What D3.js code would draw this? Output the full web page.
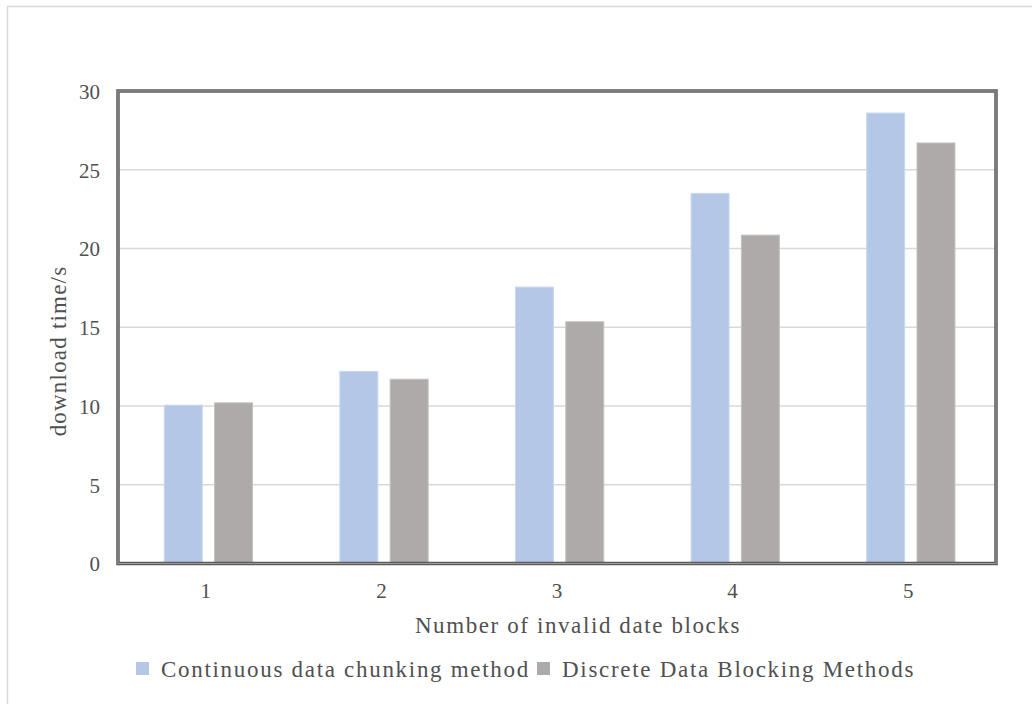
<!DOCTYPE html>
<html><head><meta charset="utf-8">
<script src="https://cdn.jsdelivr.net/npm/d3@7"></script>
<style>
html,body{margin:0;padding:0;background:#fff;}
svg{display:block;}
text{font-family:"Liberation Serif","Times New Roman",serif;fill:#505050;}
</style></head>
<body>
<svg id="chart" width="1032" height="704"></svg>
<script>
const categories = ["1","2","3","4","5"];
const seriesNames = ["Continuous data chunking method","Discrete Data Blocking Methods"];
const continuousValues = [10.05, 12.2, 17.55, 23.5, 28.6];
const discreteValues = [10.2, 11.7, 15.35, 20.85, 26.7];
const yTicks = [0,5,10,15,20,25,30];
const colors = ["#B4C7E7","#AEAAAA"];
const xTitle = "Number of invalid date blocks";
const yTitle = "download time/s";

const svg = d3.select("#chart");
const m = {left:118, right:996, top:91, bottom:563.5};

// outer chart border (partially visible)
svg.append("path").attr("d","M7.5,704 L7.5,6.5 L1032,6.5")
  .attr("fill","none").attr("stroke","#D9D9D9").attr("stroke-width",1.5);

const x0 = d3.scaleBand().domain(categories).range([m.left,m.right]).padding(0);
const x1 = d3.scaleBand().domain(seriesNames).range([0,x0.bandwidth()])
  .paddingInner(0.245).paddingOuter(0.868).align(0.53);
const y = d3.scaleLinear().domain([0,30]).range([m.bottom,m.top]);

// gridlines
svg.append("g").selectAll("line").data(yTicks.filter(d=>d>0&&d<30)).join("line")
  .attr("x1",m.left).attr("x2",m.right)
  .attr("y1",d=>y(d)).attr("y2",d=>y(d))
  .attr("stroke","#D9D9D9").attr("stroke-width",1.5);

// bars
const data = categories.map((c,i)=>({cat:c, vals:[continuousValues[i],discreteValues[i]]}));
const g = svg.append("g").selectAll("g").data(data).join("g")
  .attr("transform",d=>`translate(${x0(d.cat)},0)`);
g.selectAll("rect").data(d=>d.vals.map((v,j)=>({s:seriesNames[j],v,j}))).join("rect")
  .attr("x",d=>x1(d.s)).attr("width",x1.bandwidth())
  .attr("y",d=>y(d.v)).attr("height",d=>y(0)-y(d.v))
  .attr("fill",d=>colors[d.j])
  .attr("stroke",d=>d.j===0?"#C9D7EF":"#C4C1C1").attr("stroke-width",1);

// frame
svg.append("rect").attr("x",m.left).attr("y",m.top)
  .attr("width",m.right-m.left).attr("height",m.bottom-m.top)
  .attr("fill","none").attr("stroke","#5a5a5a").attr("stroke-width",3.5);
svg.append("rect").attr("x",m.left).attr("y",m.top)
  .attr("width",m.right-m.left).attr("height",m.bottom-m.top)
  .attr("fill","none").attr("stroke","#9a9a9a").attr("stroke-width",1);

// y axis labels
const yAxis = d3.axisLeft(y).tickValues(yTicks).tickSize(0).tickPadding(18);
const ya = svg.append("g").attr("transform",`translate(${m.left},0)`).call(yAxis);
ya.select(".domain").remove();
ya.selectAll("text").style("font-size","21px").style("font-family","Liberation Serif").attr("fill","#505050").attr("dy","0.35em");

// x axis labels
const xAxis = d3.axisBottom(x0).tickSize(0).tickPadding(20);
const xa = svg.append("g").attr("transform",`translate(0,${m.bottom})`).call(xAxis);
xa.select(".domain").remove();
xa.selectAll("text").style("font-size","21px").style("font-family","Liberation Serif").attr("fill","#505050");

// titles
svg.append("text").attr("x",(m.left+m.right)/2+21).attr("y",633)
  .attr("text-anchor","middle").style("font-size","23px").style("letter-spacing","1.6px")
  .text(xTitle);
svg.append("text").attr("transform","translate(66,351) rotate(-90)")
  .attr("text-anchor","middle").style("font-size","23px").style("letter-spacing","1.2px")
  .text(yTitle);

// legend
const legendX = [136, 537];
const lg = svg.append("g").selectAll("g").data(seriesNames).join("g")
  .attr("transform",(d,i)=>`translate(${legendX[i]},0)`);
lg.append("rect").attr("x",0).attr("y",662).attr("width",13).attr("height",13)
  .attr("fill",(d,i)=>colors[i]);
lg.append("text").attr("x",25).attr("y",677).style("font-size","23px").style("letter-spacing","1.7px")
  .text(d=>d);
</script>
</body></html>
